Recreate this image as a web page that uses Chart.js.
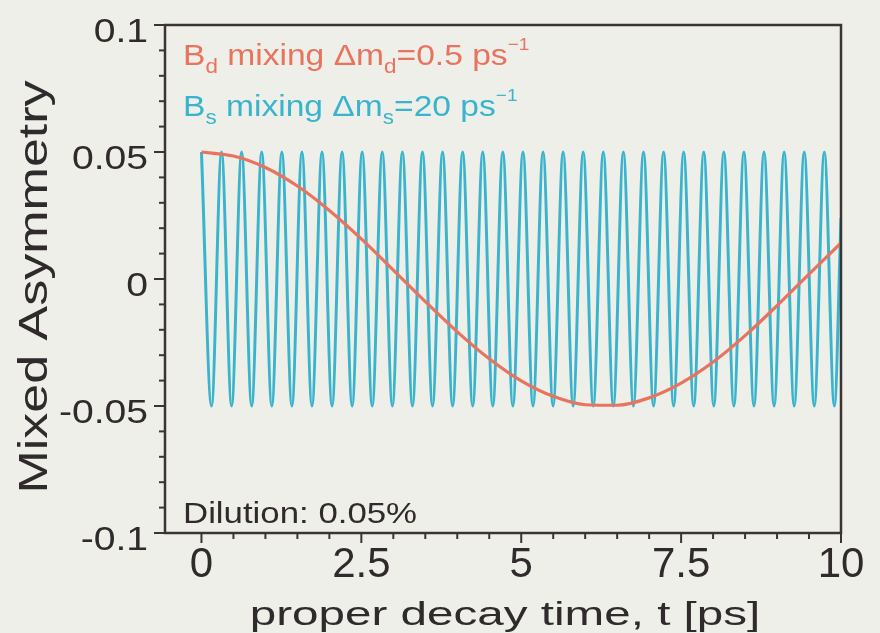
<!DOCTYPE html>
<html>
<head>
<meta charset="utf-8">
<script src="https://cdn.jsdelivr.net/npm/chart.js@4.4.1/dist/chart.umd.min.js"></script>
<style>
  html, body { margin: 0; padding: 0; background: #efefe9; }
  canvas { display: block; }
</style>
</head>
<body>
<canvas id="mixChart" width="880" height="633"></canvas>
<script>
// B_d mixing curve
const bdTime = [0, 0.5, 1, 1.5, 2, 2.5, 3, 3.5, 4, 4.5, 5, 5.5, 6, 6.5, 7, 7.5, 8, 8.5, 9, 9.5, 10];
const bdAsym = [0.050, 0.0484, 0.0439, 0.0366, 0.0270, 0.0158, 0.0035, -0.0089, -0.0208, -0.0314, -0.0401,
                -0.0462, -0.0495, -0.0497, -0.0468, -0.0410, -0.0327, -0.0223, -0.0105, 0.0019, 0.0142];

// B_s mixing: peaks and troughs of the fast oscillation
const bsTime = [0, 0.157, 0.314, 0.471, 0.628, 0.785, 0.942, 1.100, 1.257, 1.414, 1.571, 1.728, 1.885, 2.042,
                2.199, 2.356, 2.513, 2.670, 2.827, 2.985, 3.142, 3.299, 3.456, 3.613, 3.770, 3.927, 4.084,
                4.241, 4.398, 4.555, 4.712, 4.869, 5.027, 5.184, 5.341, 5.498, 5.655, 5.812, 5.969, 6.126,
                6.283, 6.440, 6.597, 6.754, 6.912, 7.069, 7.226, 7.383, 7.540, 7.697, 7.854, 8.011, 8.168,
                8.325, 8.482, 8.639, 8.796, 8.954, 9.111, 9.268, 9.425, 9.582, 9.739, 9.896, 10.0];
const bsAsym = [0.05, -0.05, 0.05, -0.05, 0.05, -0.05, 0.05, -0.05, 0.05, -0.05, 0.05, -0.05, 0.05, -0.05,
                0.05, -0.05, 0.05, -0.05, 0.05, -0.05, 0.05, -0.05, 0.05, -0.05, 0.05, -0.05, 0.05,
                -0.05, 0.05, -0.05, 0.05, -0.05, 0.05, -0.05, 0.05, -0.05, 0.05, -0.05, 0.05, -0.05,
                0.05, -0.05, 0.05, -0.05, 0.05, -0.05, 0.05, -0.05, 0.05, -0.05, 0.05, -0.05, 0.05,
                -0.05, 0.05, -0.05, 0.05, -0.05, 0.05, -0.05, 0.05, -0.05, 0.05, -0.05, 0.024];

const xTickValues = [0, 2.5, 5, 7.5, 10];
const xTickLabels = ['0', '2.5', '5', '7.5', '10'];
const yTickValues = [-0.1, -0.05, 0, 0.05, 0.1];
const yTickLabels = ['-0.1', '-0.05', '0', '0.05', '0.1'];

const RED = '#e8735e';
const CYAN = '#3ab4cd';
const INK = '#2f2a2b';
const FONT = '"Liberation Sans", Arial, Helvetica, sans-serif';

function toPoints(xs, ys) {
    return xs.map((x, i) => ({x: x, y: ys[i]}));
}

// draw a run of text pieces [str, size, dy] stretched horizontally by sx
function richText(ctx, pieces, x, y, sx, color) {
    ctx.save();
    ctx.fillStyle = color;
    ctx.textBaseline = 'alphabetic';
    ctx.textAlign = 'left';
    let cx = x;
    pieces.forEach(p => {
        ctx.font = p[1] + 'px ' + FONT;
        ctx.save();
        ctx.translate(cx, y + (p[2] || 0));
        ctx.scale(sx, 1);
        ctx.fillText(p[0], 0, 0);
        ctx.restore();
        cx += ctx.measureText(p[0]).width * sx;
    });
    ctx.restore();
}

function text(ctx, s, x, y, size, sx, align, color) {
    ctx.save();
    ctx.font = size + 'px ' + FONT;
    ctx.fillStyle = color;
    ctx.textAlign = align;
    ctx.textBaseline = 'alphabetic';
    ctx.translate(x, y);
    ctx.scale(sx, 1);
    ctx.fillText(s, 0, 0);
    ctx.restore();
}

function near(v, arr) {
    return arr.findIndex(a => Math.abs(a - v) < 1e-6);
}

const axesPlugin = {
    id: 'axesPlugin',
    afterDraw(chart) {
        const ctx = chart.ctx;
        const a = chart.chartArea;
        const xs = chart.scales.x, ys = chart.scales.y;

        ctx.save();
        ctx.strokeStyle = '#3a3435';
        ctx.lineWidth = 2.5;
        ctx.strokeRect(a.left, a.top, a.right - a.left, a.bottom - a.top);

        // y ticks
        ctx.lineWidth = 2;
        ys.ticks.forEach(t => {
            const py = ys.getPixelForValue(t.value);
            const k = near(t.value, yTickValues);
            const len = k >= 0 ? 11 : 6;
            ctx.beginPath();
            ctx.moveTo(a.left - len, py);
            ctx.lineTo(a.left, py);
            ctx.stroke();
            if (k >= 0) text(ctx, yTickLabels[k], 148, py + 17, 34, 1.15, 'right', INK);
        });

        // x ticks
        xs.ticks.forEach(t => {
            if (t.value < -1e-6) return;
            const px = xs.getPixelForValue(t.value);
            const k = near(t.value, xTickValues);
            const len = k >= 0 ? 10 : 6;
            ctx.beginPath();
            ctx.moveTo(px, a.bottom);
            ctx.lineTo(px, a.bottom + len);
            ctx.stroke();
            if (k >= 0) text(ctx, xTickLabels[k], px, 577, 42, 1.0, 'center', INK);
        });
        ctx.restore();

        // axis titles
        text(ctx, 'proper decay time, t [ps]', 505, 625, 34, 1.4, 'center', INK);
        ctx.save();
        ctx.translate(47, 287);
        ctx.rotate(-Math.PI / 2);
        ctx.font = '40px ' + FONT;
        ctx.fillStyle = INK;
        ctx.textAlign = 'center';
        ctx.save();
        ctx.scale(1.3, 1);
        ctx.fillText('Mixed Asymmetry', 0, 0);
        ctx.restore();
        ctx.restore();

        // in-plot labels
        richText(ctx, [['B', 30], ['d', 20, 8], [' mixing \u0394m', 30], ['d', 20, 8], ['=0.5 ps', 30], ['\u22121', 17, -15]],
                 183, 65, 1.12, RED);
        richText(ctx, [['B', 30], ['s', 20, 8], [' mixing \u0394m', 30], ['s', 20, 8], ['=20 ps', 30], ['\u22121', 17, -15]],
                 183, 116, 1.12, CYAN);
        text(ctx, 'Dilution: 0.05%', 183, 523, 30, 1.16, 'left', INK);
    }
};

const ctx = document.getElementById('mixChart').getContext('2d');
const mixChart = new Chart(ctx, {
    type: 'line',
    data: {
        datasets: [{
            label: 'Bd mixing',
            data: toPoints(bdTime, bdAsym),
            borderColor: RED,
            borderWidth: 3.2,
            pointRadius: 0,
            cubicInterpolationMode: 'monotone',
            fill: false
        }, {
            label: 'Bs mixing',
            data: toPoints(bsTime, bsAsym),
            borderColor: CYAN,
            borderWidth: 3,
            pointRadius: 0,
            cubicInterpolationMode: 'monotone',
            fill: false
        }]
    },
    options: {
        responsive: false,
        animation: false,
        layout: { padding: { left: 165, right: 39, top: 25, bottom: 100 } },
        plugins: { legend: { display: false }, tooltip: { enabled: false } },
        scales: {
            x: {
                type: 'linear',
                display: false,
                min: -0.57,
                max: 10,
                ticks: { stepSize: 0.5 }
            },
            y: {
                type: 'linear',
                display: false,
                min: -0.1,
                max: 0.1,
                ticks: { stepSize: 0.01 }
            }
        }
    },
    plugins: [axesPlugin]
});
</script>
</body>
</html>
